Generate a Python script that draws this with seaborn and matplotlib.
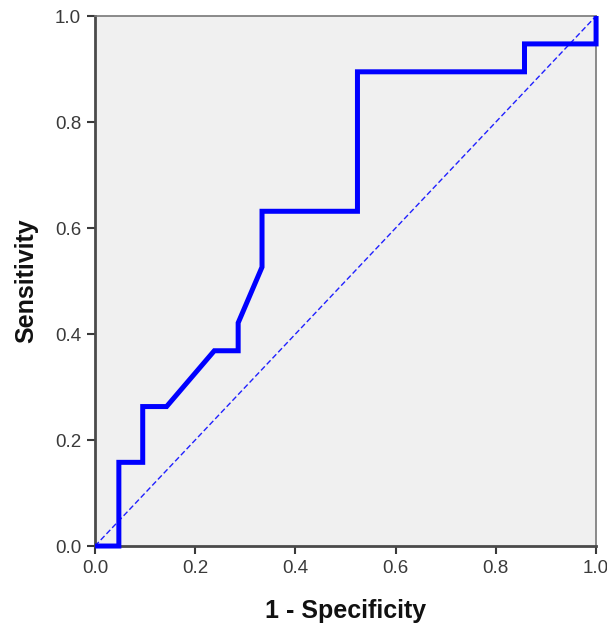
import numpy as np
import pandas as pd
import matplotlib
matplotlib.use("Agg")
import matplotlib.pyplot as plt
import seaborn as sns

# ROC curve: 21 negatives, 19 positives
fpr = [0, 1, 1, 2, 2, 3, 5, 6, 6, 7, 7, 11, 11, 18, 18, 21, 21]
tpr = [0, 0, 3, 3, 5, 5, 7, 7, 8, 10, 12, 12, 17, 17, 18, 18, 19]
n_neg = 21
n_pos = 19
ref_line = [0.0, 1.0]
ticks = [0.0, 0.2, 0.4, 0.6, 0.8, 1.0]


def main():
    sns.set_style("white")
    plt.rcParams["font.family"] = ["Liberation Sans", "DejaVu Sans"]

    df = pd.DataFrame({
        "x": np.array(fpr) / n_neg,
        "y": np.array(tpr) / n_pos,
    })

    fig = plt.figure(figsize=(6.07, 6.33), dpi=100)
    ax = fig.add_axes([0.1565, 0.1374, 0.8255, 0.8373])
    ax.set_facecolor("#f0f0f0")

    sns.lineplot(x=ref_line, y=ref_line, ax=ax, color="#2020ff",
                 linewidth=1.0, linestyle=(0, (4, 2)))
    sns.lineplot(data=df, x="x", y="y", ax=ax, sort=False, estimator=None,
                 color="#0000ff", linewidth=3.6, solid_joinstyle="miter",
                 solid_capstyle="butt", clip_on=False, zorder=5)

    ax.set_xlim(0, 1)
    ax.set_ylim(0, 1)
    ax.set_xticks(ticks)
    ax.set_yticks(ticks)
    ax.set_xticklabels([f"{t:.1f}" for t in ticks])
    ax.set_yticklabels([f"{t:.1f}" for t in ticks])
    ax.tick_params(axis="both", direction="out", length=6, width=1.5,
                   colors="#3a3a3a", labelsize=13.5, pad=4,
                   bottom=True, left=True, top=False, right=False)

    for side in ["left", "bottom"]:
        ax.spines[side].set_color("#4a4a4a")
        ax.spines[side].set_linewidth(2)
    for side in ["top", "right"]:
        ax.spines[side].set_color("#777777")
        ax.spines[side].set_linewidth(1.2)

    ax.set_xlabel("1 - Specificity", fontsize=18, fontweight="bold",
                  color="#111111", labelpad=16)
    ax.set_ylabel("Sensitivity", fontsize=18, fontweight="bold",
                  color="#111111", labelpad=12)
    ax.grid(False)

    fig.savefig("out.png", dpi=100)
    plt.close()


if __name__ == "__main__":
    main()
